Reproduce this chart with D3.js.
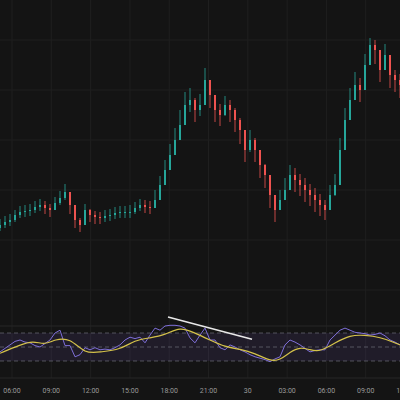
<!DOCTYPE html>
<html><head><meta charset="utf-8">
<script src="https://cdn.jsdelivr.net/npm/d3@7"></script>
<style>body{margin:0;background:#141414}svg{display:block}</style>
</head><body><svg id="c" width="400" height="400"></svg>
<script>
// one candle per slot, prices
var closes = [175,178,180,185,188,189,190,193,195,192,
  190,197,202,208,195,180,175,190,185,183,
  182,184,185,187,188,188,188,192,195,193,
  192,200,215,230,245,260,275,295,300,290,
  295,320,305,290,285,295,290,280,270,250,
  260,250,235,225,205,190,200,210,225,220,
  215,210,205,200,195,190,205,215,250,280,
  300,315,310,335,355,350,330,345,325,320,315];
var highs = [181,184,186,190,194,195,196,199,201,199,
  196,203,209,216,202,188,182,196,191,189,
  188,190,191,193,194,194,195,198,201,200,
  199,210,224,240,256,272,290,308,312,302,
  306,332,318,302,296,304,300,292,282,262,
  270,262,246,236,216,204,210,222,235,232,
  226,222,216,212,206,200,215,226,262,292,
  312,328,322,346,362,360,346,356,338,330,326];
var lows = [169,172,174,178,182,183,184,187,189,186,
  183,190,195,200,186,172,168,182,178,176,
  176,178,179,181,182,182,182,186,189,187,
  186,192,205,220,235,250,262,282,288,278,
  284,302,292,278,274,284,278,268,256,238,
  248,238,222,212,192,178,190,200,214,208,
  204,198,194,188,184,180,194,204,236,268,
  288,302,298,322,342,336,318,332,312,308,302];
var rsi = [43,48,53,58,60,57,56,52,50,55,
  60,70,74,52,52,36,39,49,46,49,
  46,47,46,49,53,60,64,62,64,56,
  67,77,74,80,81,81,80,77,63,56,
  67,77,60,60,49,46,53,50,46,43,
  39,36,34,32,29,33,36,53,60,57,
  53,48,43,45,46,46,60,67,74,77,
  74,71,70,69,67,68,70,66,60,57,53];
var maPos = [0,4,6.6,9,11,14,17,20,24,27,30,33,36,39,42,45,48,51,54,56,58,60,62,64,67,70,73,76,79,80];
var maVal = [41,53,59,53,61,63,40,43,46,60,63,67,79,70,60,50,47,41,30,31,43,50,46,43,56,67,67,64,56,53];
var tickLabels = ["06:00","09:00","12:00","15:00","18:00","21:00","30","03:00","06:00","09:00","12:00"];
var trend = [[33.6, 93], [50.4, 61]]; // [candle slot, rsi]

var svg = d3.select("#c");
var W = 400;
var x = d3.scaleLinear().domain([0, closes.length - 1]).range([0, 400]);
var y = d3.scaleLinear().domain([160, 360]).range([240, 40]);
var ry = d3.scaleLinear().domain([0, 100]).range([382, 312]);
var tx = d3.scaleLinear().domain([0, tickLabels.length - 1]).range([12, 405]);

// grid
var g = svg.append("g").attr("stroke", "#1f1f1f").attr("stroke-width", 1);
tickLabels.forEach(function(t, i) {
  g.append("line").attr("x1", tx(i)).attr("x2", tx(i)).attr("y1", 0).attr("y2", 378);
});
[40, 90, 140, 190, 240, 290].forEach(function(v) {
  g.append("line").attr("x1", 0).attr("x2", W).attr("y1", v).attr("y2", v);
});

// candles
var cw = 2;
var candles = svg.append("g").selectAll("g").data(closes).enter().append("g");
candles.each(function(c, i) {
  var o = i ? closes[i - 1] : c - 3;
  var col = c >= o ? "#26a69a" : "#ef5350";
  var s = d3.select(this);
  s.append("line").attr("x1", x(i)).attr("x2", x(i))
    .attr("y1", y(highs[i])).attr("y2", y(lows[i])).attr("stroke", col).attr("stroke-width", 0.8);
  s.append("rect").attr("x", x(i) - cw / 2).attr("width", cw)
    .attr("y", y(Math.max(o, c))).attr("height", Math.max(1, Math.abs(y(o) - y(c))))
    .attr("fill", col);
});

// rsi panel
svg.append("line").attr("x1", 0).attr("x2", W).attr("y1", 326).attr("y2", 326).attr("stroke", "#262626");
svg.append("rect").attr("x", 0).attr("width", W).attr("y", ry(70)).attr("height", ry(30) - ry(70))
  .attr("fill", "#7e57c2").attr("opacity", 0.12);
[70, 50, 30].forEach(function(v) {
  svg.append("line").attr("x1", 0).attr("x2", W).attr("y1", ry(v)).attr("y2", ry(v))
    .attr("stroke", "#787b86").attr("stroke-dasharray", "4,3").attr("opacity", 0.6);
});
svg.append("path").datum(rsi).attr("fill", "none").attr("stroke", "#7e6fd8").attr("stroke-width", 1)
  .attr("d", d3.line().x(function(d, i) { return x(i); }).y(function(d) { return ry(d); }));
svg.append("path").datum(maVal).attr("fill", "none").attr("stroke", "#d4c24a").attr("stroke-width", 1.2)
  .attr("d", d3.line().curve(d3.curveBasis).x(function(d, i) { return x(maPos[i]); }).y(function(d) { return ry(d); }));
svg.append("line").attr("x1", x(trend[0][0])).attr("y1", ry(trend[0][1]))
  .attr("x2", x(trend[1][0])).attr("y2", ry(trend[1][1])).attr("stroke", "#e8e8e8").attr("stroke-width", 1.6);

// time axis
svg.append("line").attr("x1", 0).attr("x2", W).attr("y1", 378).attr("y2", 378).attr("stroke", "#262626");
svg.append("g").selectAll("text").data(tickLabels).enter().append("text")
  .attr("x", function(d, i) { return tx(i); }).attr("y", 393)
  .attr("text-anchor", "middle").attr("fill", "#9a9a9a")
  .attr("font-family", "Roboto, sans-serif").attr("font-size", 7).text(function(d) { return d; });
</script></body></html>
